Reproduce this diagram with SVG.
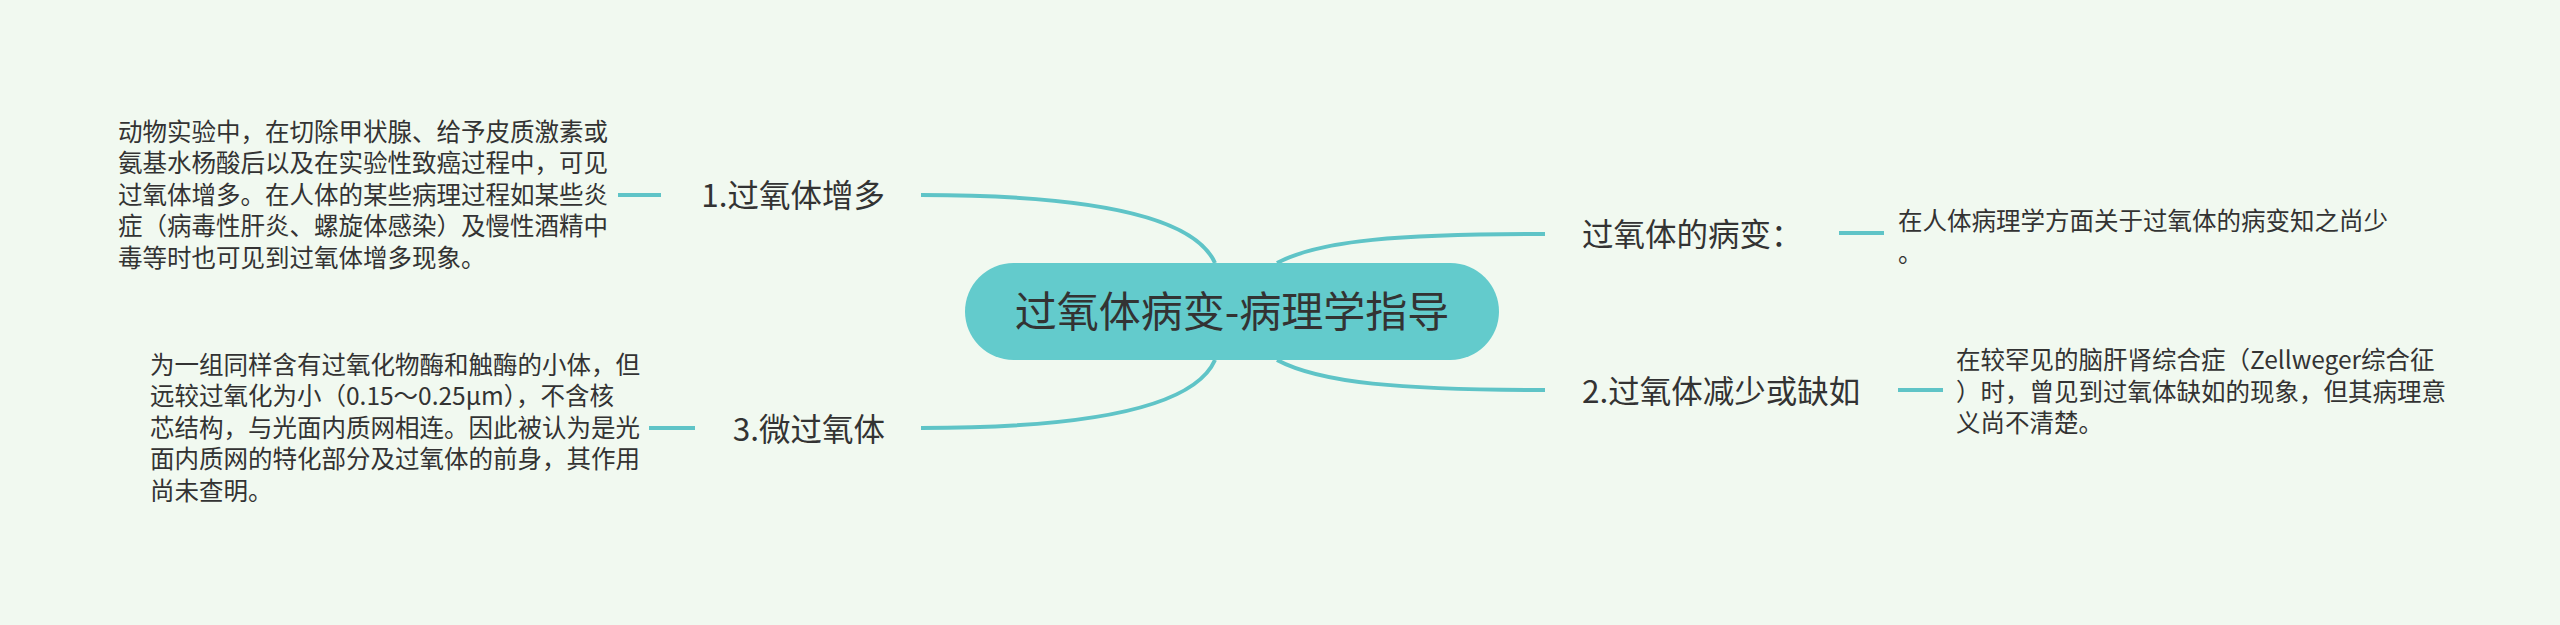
<svg xmlns="http://www.w3.org/2000/svg" width="2560" height="625" viewBox="0 0 2560 625">
<style>
text{font-family:"Noto Sans CJK SC","Noto Sans",sans-serif;fill:#333333}
.leaf{font-size:24.5px}
.branch{font-size:31.5px}
.root{font-size:42px}
.ln{fill:none;stroke:#5fc4c7;stroke-width:4;stroke-linecap:butt}
</style>
<rect x="0" y="0" width="2560" height="625" fill="#f1f9f0"/>
<g id="connectors">
<path class="ln" d="M921,195 Q1185,195 1215,263"/>
<path class="ln" d="M921,428 Q1185,428 1215,360"/>
<path class="ln" d="M1277,263 C1320,240 1400,234 1545,234"/>
<path class="ln" d="M1277,360 C1320,383 1400,390 1545,390"/>
<path class="ln" d="M618,195 H661"/>
<path class="ln" d="M649,428 H695"/>
<path class="ln" d="M1839,233 H1884"/>
<path class="ln" d="M1898,390 H1943"/>
</g>
<g id="root">
<rect x="965" y="263" width="534" height="97" rx="48.5" fill="#63cbcc"/>
<text class="root" x="1232" y="326.5" text-anchor="middle">过氧体病变-病理学指导</text>
</g>
<g id="branch1">
<text class="branch" x="885" y="207" text-anchor="end">1.过氧体增多</text>
</g>
<g id="leaf1">
<text class="leaf" x="118" y="140.5">动物实验中，在切除甲状腺、给予皮质激素或</text>
<text class="leaf" x="118" y="172">氨基水杨酸后以及在实验性致癌过程中，可见</text>
<text class="leaf" x="118" y="203.5">过氧体增多。在人体的某些病理过程如某些炎</text>
<text class="leaf" x="118" y="235">症（病毒性肝炎、螺旋体感染）及慢性酒精中</text>
<text class="leaf" x="118" y="266.5">毒等时也可见到过氧体增多现象。</text>
</g>
<g id="branch3">
<text class="branch" x="885" y="441" text-anchor="end">3.微过氧体</text>
</g>
<g id="leaf3">
<text class="leaf" x="150" y="373.5">为一组同样含有过氧化物酶和触酶的小体，但</text>
<text class="leaf" x="150" y="405">远较过氧化为小（0.15～0.25μm），不含核</text>
<text class="leaf" x="150" y="436.5">芯结构，与光面内质网相连。因此被认为是光</text>
<text class="leaf" x="150" y="468">面内质网的特化部分及过氧体的前身，其作用</text>
<text class="leaf" x="150" y="499.5">尚未查明。</text>
</g>
<g id="branchA">
<text class="branch" x="1582" y="246">过氧体的病变：</text>
</g>
<g id="leafA">
<text class="leaf" x="1898" y="230">在人体病理学方面关于过氧体的病变知之尚少</text>
<text class="leaf" x="1898" y="262">。</text>
</g>
<g id="branch2">
<text class="branch" x="1582" y="403">2.过氧体减少或缺如</text>
</g>
<g id="leaf2">
<text class="leaf" x="1956" y="369">在较罕见的脑肝肾综合症（Zellweger综合征</text>
<text class="leaf" x="1956" y="400.5">）时，曾见到过氧体缺如的现象，但其病理意</text>
<text class="leaf" x="1956" y="432">义尚不清楚。</text>
</g>
</svg>
